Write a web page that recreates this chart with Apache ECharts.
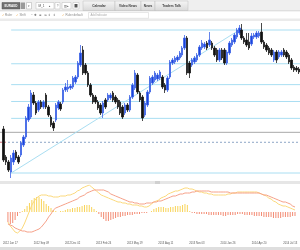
<!DOCTYPE html>
<html><head><meta charset="utf-8">
<script src="https://cdn.jsdelivr.net/npm/echarts@6/dist/echarts.min.js"></script>
<style>html,body{margin:0;padding:0;background:#fff;overflow:hidden}#c{width:300px;height:250px}</style>
</head><body><div id="c"></div>
<script>
// ---- tick labels (one every 13 candles, starting at candle 1)
const tickLabels = ['2012 Jun 17','2012 Sep 09','2012 Dec 02','2013 Feb 24','2013 May 19','2013 Aug 11','2013 Nov 03','2014 Jan 26','2014 Apr 20','2014 Jul 13'];

// ---- EURAUD candles (index 0 is an empty slot)
const openPrices = [null,
1.3025,1.2325,1.2200,1.1950,1.2200,1.2450,1.2325,1.2375,1.2625,1.2825,
1.3250,1.3325,1.3875,1.3675,1.3500,1.3700,1.3575,1.3875,1.3575,1.3325,
1.3175,1.3250,1.3550,1.3650,1.3700,1.4000,1.4025,1.4050,1.4075,1.4200,
1.4325,1.4625,1.5000,1.4625,1.4425,1.4125,1.3875,1.3825,1.3700,1.3625,
1.3425,1.3750,1.3750,1.3800,1.3925,1.3825,1.3750,1.3700,1.3575,1.3425,
1.3625,1.3500,1.3825,1.4050,1.4375,1.3925,1.3825,1.3375,1.3625,1.3950,
1.4175,1.4250,1.4275,1.4300,1.4325,1.4125,1.4000,1.4325,1.4675,1.4700,
1.4750,1.4800,1.4875,1.5050,1.5300,1.4675,1.4625,1.4700,1.4750,1.4875,
1.5050,1.5075,1.5175,1.5125,1.5175,1.5050,1.5000,1.4750,1.5000,1.5000,
1.4675,1.4925,1.5125,1.5200,1.5325,1.5425,1.5500,1.5300,1.5250,1.5200,
1.5150,1.5325,1.5325,1.5350,1.5450,1.5200,1.5125,1.5050,1.5000,1.4750,
1.4950,1.4825,1.4875,1.5000,1.4950,1.4875,1.4750,1.4575,1.4550,1.4525];
const closePrices = [null,
1.2250,1.2200,1.2000,1.2300,1.2425,1.2300,1.2200,1.2675,1.2825,1.3300,
1.3575,1.3925,1.3675,1.3425,1.3700,1.3575,1.3700,1.3575,1.3375,1.3125,
1.3050,1.3625,1.3700,1.3525,1.4000,1.4075,1.4075,1.4100,1.4300,1.4325,
1.4675,1.4925,1.4425,1.4425,1.4125,1.3875,1.3700,1.3700,1.3550,1.3425,
1.3675,1.3575,1.3875,1.3875,1.3750,1.3700,1.3575,1.3425,1.3325,1.3625,
1.3500,1.3825,1.4125,1.4425,1.3950,1.3750,1.3300,1.3675,1.3950,1.4300,
1.4325,1.4425,1.4375,1.4450,1.4075,1.4000,1.4300,1.4700,1.4750,1.4800,
1.4825,1.4925,1.5050,1.5300,1.4425,1.4425,1.4750,1.4800,1.4875,1.5075,
1.5175,1.5150,1.5050,1.5250,1.5050,1.4875,1.4750,1.5000,1.4800,1.4675,
1.4950,1.5175,1.5250,1.5375,1.5500,1.5550,1.5300,1.5200,1.5125,1.5050,
1.5350,1.5375,1.5425,1.5425,1.5200,1.5075,1.5000,1.4925,1.4875,1.4950,
1.4750,1.4950,1.4950,1.4875,1.4825,1.4700,1.4550,1.4500,1.4500,1.4450];
const lowPrices = [null,
1.2200,1.2125,1.1950,1.1800,1.2125,1.2250,1.2150,1.2325,1.2575,1.2775,
1.3200,1.3275,1.3625,1.3375,1.3450,1.3525,1.3525,1.3525,1.3325,1.3075,
1.2975,1.3200,1.3500,1.3475,1.3650,1.3950,1.3950,1.4000,1.4025,1.4150,
1.4275,1.4575,1.4375,1.4375,1.4075,1.3825,1.3650,1.3650,1.3500,1.3375,
1.3300,1.3525,1.3700,1.3750,1.3700,1.3650,1.3525,1.3375,1.3275,1.3375,
1.3450,1.3450,1.3775,1.4000,1.3900,1.3700,1.3225,1.3325,1.3575,1.3900,
1.4125,1.4200,1.4225,1.4250,1.4025,1.3925,1.3950,1.4275,1.4625,1.4650,
1.4700,1.4750,1.4825,1.5000,1.4375,1.4300,1.4575,1.4650,1.4700,1.4825,
1.5000,1.5025,1.5000,1.5075,1.5000,1.4825,1.4700,1.4700,1.4750,1.4625,
1.4625,1.4875,1.5075,1.5150,1.5275,1.5375,1.5250,1.5150,1.5075,1.5000,
1.5100,1.5275,1.5275,1.5300,1.5150,1.5025,1.4950,1.4875,1.4825,1.4700,
1.4675,1.4775,1.4825,1.4825,1.4775,1.4650,1.4500,1.4450,1.4450,1.4400];
const highPrices = [null,
1.3100,1.2375,1.2250,1.2375,1.2500,1.2500,1.2375,1.2725,1.2875,1.3350,
1.3650,1.4000,1.3950,1.3725,1.3750,1.3750,1.3750,1.3925,1.3625,1.3375,
1.3225,1.3675,1.3750,1.3700,1.4050,1.4175,1.4250,1.4150,1.4350,1.4375,
1.4725,1.5125,1.5100,1.4675,1.4475,1.4175,1.3925,1.3875,1.3750,1.3675,
1.3725,1.3800,1.3925,1.3925,1.3975,1.3875,1.3800,1.3750,1.3625,1.3675,
1.3675,1.3875,1.4175,1.4500,1.4425,1.3975,1.3875,1.3725,1.4000,1.4350,
1.4375,1.4475,1.4425,1.4500,1.4375,1.4175,1.4350,1.4750,1.4800,1.4850,
1.4875,1.4975,1.5100,1.5375,1.5350,1.4725,1.4800,1.4850,1.4925,1.5125,
1.5250,1.5200,1.5225,1.5450,1.5225,1.5100,1.5050,1.5050,1.5050,1.5050,
1.5000,1.5225,1.5300,1.5425,1.5550,1.5625,1.5650,1.5350,1.5425,1.5425,
1.5425,1.5425,1.5475,1.5475,1.5675,1.5250,1.5175,1.5100,1.5050,1.5000,
1.5000,1.5000,1.5000,1.5050,1.5000,1.4925,1.4800,1.4625,1.4600,1.4575];

// ---- drawing tools: trend line anchors and retracement levels
const trendStart = {index: 4, price: 1.1925};
const trendEnd = {index: 96, price: 1.5500};
const fibLevels = [1.5500, 1.4656, 1.4134, 1.3713, 1.3291, 1.1925];
const grayLevel = 1.2942;
const dashedLevel = 1.2693;

// ---- MACD panel
const macdLine = [
-0.010,-0.014,-0.017,-0.020,-0.021,-0.019,-0.016,-0.011,-0.005,0.001,
0.007,0.011,0.014,0.016,0.017,0.017,0.017,0.016,0.016,0.015,
0.015,0.015,0.016,0.016,0.016,0.017,0.017,0.018,0.019,0.021,
0.022,0.024,0.025,0.026,0.027,0.025,0.023,0.021,0.019,0.017,
0.016,0.015,0.014,0.013,0.012,0.011,0.010,0.010,0.009,0.009,
0.008,0.008,0.007,0.007,0.007,0.006,0.006,0.005,0.005,0.006,
0.008,0.010,0.011,0.012,0.014,0.015,0.016,0.018,0.019,0.020,
0.021,0.021,0.022,0.023,0.024,0.024,0.023,0.023,0.022,0.021,
0.020,0.020,0.019,0.019,0.018,0.018,0.017,0.017,0.017,0.017,
0.017,0.017,0.018,0.018,0.019,0.019,0.020,0.020,0.020,0.020,
0.020,0.020,0.020,0.020,0.020,0.019,0.018,0.017,0.016,0.014,
0.013,0.011,0.010,0.008,0.007,0.006,0.006,0.005,0.004,0.003,0.002];
const signalLine = [
-0.012,-0.013,-0.014,-0.016,-0.017,-0.018,-0.019,-0.019,-0.020,-0.020,
-0.020,-0.019,-0.018,-0.017,-0.015,-0.012,-0.009,-0.005,-0.002,0.002,
0.004,0.005,0.006,0.007,0.008,0.009,0.010,0.011,0.012,0.013,
0.015,0.016,0.017,0.019,0.020,0.021,0.022,0.022,0.022,0.022,
0.022,0.021,0.020,0.018,0.017,0.016,0.015,0.014,0.013,0.012,
0.011,0.010,0.010,0.009,0.009,0.008,0.008,0.008,0.009,0.009,
0.009,0.010,0.010,0.011,0.011,0.012,0.013,0.014,0.015,0.016,
0.016,0.017,0.018,0.018,0.019,0.019,0.019,0.020,0.020,0.021,
0.021,0.021,0.021,0.021,0.021,0.020,0.020,0.020,0.020,0.020,
0.020,0.020,0.020,0.019,0.019,0.019,0.019,0.019,0.019,0.019,
0.019,0.019,0.019,0.019,0.019,0.019,0.018,0.017,0.017,0.016,
0.015,0.014,0.013,0.012,0.011,0.010,0.010,0.009,0.008,0.006,0.005];
const histogram = [
-0.010,-0.012,-0.011,-0.008,-0.004,-0.001,0.001,0.003,0.006,0.009,
0.012,0.014,0.015,0.015,0.013,0.011,0.008,0.006,0.004,0.002,
0.001,0.000,0.001,0.001,0.002,0.003,0.003,0.004,0.004,0.005,
0.005,0.006,0.007,0.007,0.007,0.005,0.003,0.001,-0.002,-0.005,
-0.007,-0.009,-0.009,-0.008,-0.007,-0.006,-0.005,-0.005,-0.004,-0.004,
-0.003,-0.003,-0.003,-0.002,-0.002,-0.002,-0.001,-0.001,-0.001,0.000,
0.001,0.003,0.004,0.005,0.005,0.005,0.004,0.004,0.005,0.005,
0.006,0.006,0.006,0.007,0.008,0.007,0.001,-0.001,-0.001,-0.002,
-0.002,-0.002,-0.002,-0.002,-0.003,-0.003,-0.003,-0.003,-0.003,-0.003,
-0.004,-0.004,-0.003,-0.003,-0.003,-0.003,-0.002,-0.002,-0.002,-0.003,
-0.003,-0.003,-0.003,-0.004,-0.004,-0.004,-0.004,-0.005,-0.005,-0.005,
-0.005,-0.006,-0.006,-0.006,-0.006,-0.005,-0.005,-0.005,-0.005,-0.004,-0.004];

// ---- build
const N = openPrices.length;
const categories = openPrices.map((_, i) => String(i));
const candleData = openPrices.map((o, i) => o == null ? ['-', '-', '-', '-'] : [o, closePrices[i], lowPrices[i], highPrices[i]]);
const FONT = 'Liberation Sans, Arial, sans-serif';
const fibColor = '#a9def2';

const lineSeries = [];
fibLevels.forEach(lv => lineSeries.push({
  type: 'line', xAxisIndex: 1, yAxisIndex: 0, symbol: 'none', silent: true, z: 1,
  lineStyle: {color: fibColor, width: 1}, data: [[trendStart.index + 0.5, lv], [N, lv]]
}));
lineSeries.push({type: 'line', xAxisIndex: 1, yAxisIndex: 0, symbol: 'none', z: 1,
  lineStyle: {color: '#a8a8a8', width: 1}, data: [[0, grayLevel], [N, grayLevel]]});
lineSeries.push({type: 'line', xAxisIndex: 1, yAxisIndex: 0, symbol: 'none', z: 1,
  lineStyle: {color: '#8ea6c6', width: 1, type: [2, 2]}, data: [[0, dashedLevel], [N, dashedLevel]]});
lineSeries.push({type: 'line', xAxisIndex: 1, yAxisIndex: 0, symbol: 'none', z: 2,
  lineStyle: {color: '#f08a8a', width: 1, type: [2, 2]}, data: [[0, dashedLevel], [3.2, dashedLevel]]});
lineSeries.push({type: 'line', xAxisIndex: 1, yAxisIndex: 0, symbol: 'none', z: 1,
  lineStyle: {color: fibColor, width: 1},
  data: [[trendStart.index + 0.5, trendStart.price], [trendEnd.index + 0.5, trendEnd.price]]});

function txt(x, y, s, opt) {
  return Object.assign({type: 'text', x: x, y: y, z: 100,
    style: Object.assign({text: s, fontSize: 3.4, fontFamily: FONT, fill: '#555', verticalAlign: 'middle', align: 'left'}, opt || {})});
}
function rect(x, y, w, h, st) {
  return {type: 'rect', z: 99, shape: {x: x, y: y, width: w, height: h}, style: st};
}
const tabFill = new echarts.graphic.LinearGradient(0, 0, 0, 1, [{offset: 0, color: '#f6f6f6'}, {offset: 1, color: '#d9d9d9'}]);
const tabs = [['Calendar', 83, 115], ['Video News', 115, 141], ['News', 141, 155], ['Traders Talk', 155, 188]];
const graphic = [
  rect(0, 0, 300, 11, {fill: '#efefef'}),
  rect(0, 10.5, 300, 0.8, {fill: '#cfcfcf'}),
  rect(2, 2.5, 18, 6.5, {fill: '#6f6f6f', stroke: '#555', lineWidth: 0.5}),
  txt(11, 5.9, 'EURAUD', {fill: '#fff', fontSize: 3, fontWeight: 'bold', align: 'center'}),
  rect(21, 2.5, 4, 6.5, {fill: '#9a9a9a'}),
  rect(26.5, 2.5, 5, 6.5, {fill: '#fff', stroke: '#aaa', lineWidth: 0.5}),
  txt(29, 5.9, '▾', {align: 'center', fill: '#666'}),
  rect(36, 2.5, 18, 6.5, {fill: '#fff', stroke: '#bbb', lineWidth: 0.5}),
  txt(38.5, 5.9, 'M_1', {fill: '#444', fontSize: 3}),
  txt(49.5, 5.9, '▲', {fill: '#666', fontSize: 2.6, align: 'center'}),
  rect(55, 2.5, 5, 6.5, {fill: '#fff', stroke: '#bbb', lineWidth: 0.5}),
  txt(57.5, 5.9, '?', {fill: '#666', fontSize: 3, align: 'center'}),
  rect(62, 2.5, 9, 6.5, {fill: '#fff', stroke: '#bbb', lineWidth: 0.5}),
  txt(66.5, 5.9, '▥▴', {fill: '#555', fontSize: 2.8, align: 'center'}),
  rect(73, 2.5, 6, 6.5, {fill: '#fff', stroke: '#bbb', lineWidth: 0.5}),
  rect(74.5, 4, 3, 3.5, {fill: '#555'}),
  // row 2
  rect(0, 18.5, 300, 2.5, {fill: '#ebebeb'}),
  txt(1.5, 15.3, '✓', {fill: '#f0a030', fontSize: 3.2}),
  txt(5, 15.3, 'Ruler', {fill: '#888', fontSize: 3}),
  txt(16, 15.3, '✓', {fill: '#f0a030', fontSize: 3.2}),
  txt(19.5, 15.3, 'Shift', {fill: '#888', fontSize: 3}),
  txt(31, 15.3, '−  ✚  ⊕  ≫  ⇕  ⇕', {fill: '#666', fontSize: 3}),
  txt(62, 15.3, '✓', {fill: '#f0a030', fontSize: 3.2}),
  txt(65.5, 15.3, 'Ruler default', {fill: '#888', fontSize: 3}),
  rect(88.5, 12.5, 60, 5.8, {fill: '#fff', stroke: '#cfcfcf', lineWidth: 0.5}),
  txt(90.5, 15.4, 'Add Indicator', {fill: '#aaa', fontSize: 2.8}),
  // panel separator and bottom strip
  rect(0, 181, 300, 3, {fill: '#e6e6e6'}),
  rect(155, 181, 5, 3, {fill: '#d0d0d0'}),
  rect(0, 247, 300, 3, {fill: '#dedede'})
];
tabs.forEach(t => {
  graphic.push(rect(t[1], 1, t[2] - t[1], 9.5, {fill: tabFill, stroke: '#bdbdbd', lineWidth: 0.5}));
  graphic.push(txt((t[1] + t[2]) / 2, 5.9, t[0], {align: 'center', fill: '#3a3a3a', fontWeight: 'bold', fontSize: 3.2}));
});

const chart = echarts.init(document.getElementById('c'), null, {renderer: 'canvas'});
chart.setOption({
  animation: false,
  backgroundColor: '#ffffff',
  grid: [
    {left: 0, right: 0, top: 24, height: 158},
    {left: 0, right: 0, top: 185, height: 55}
  ],
  xAxis: [
    {type: 'category', gridIndex: 0, data: categories, boundaryGap: true, show: false},
    {type: 'value', gridIndex: 0, min: 0, max: N, show: false},
    {type: 'category', gridIndex: 1, data: categories, boundaryGap: true,
      axisLine: {show: false}, axisTick: {show: false}, splitLine: {show: false},
      axisLabel: {show: true, margin: 2, fontSize: 2.7, color: '#555', fontFamily: FONT, hideOverlap: false,
        interval: (idx) => idx >= 1 && (idx - 1) % 13 === 0,
        formatter: (v, idx) => tickLabels[(idx - 1) / 13] || ''}}
  ],
  yAxis: [
    {type: 'value', gridIndex: 0, min: 1.17, max: 1.565, show: false, splitLine: {show: false}},
    {type: 'value', gridIndex: 1, min: -0.028, max: 0.027, show: false, splitLine: {show: false}}
  ],
  graphic: graphic,
  series: lineSeries.concat([
    {type: 'candlestick', xAxisIndex: 0, yAxisIndex: 0, data: candleData, barWidth: 2, z: 3,
      itemStyle: {color: '#1b44dc', color0: '#111111', borderColor: '#3f64e6', borderColor0: '#1a1a1a', borderWidth: 0.8}},
    {type: 'bar', xAxisIndex: 2, yAxisIndex: 1, data: histogram, barWidth: 1, z: 1,
      itemStyle: {color: (p) => p.value >= 0 ? '#f8d45a' : '#f38c74'}},
    {type: 'line', xAxisIndex: 2, yAxisIndex: 1, data: macdLine, symbol: 'none', z: 2,
      lineStyle: {color: '#fbd97c', width: 1}},
    {type: 'line', xAxisIndex: 2, yAxisIndex: 1, data: signalLine, symbol: 'none', z: 2,
      lineStyle: {color: '#f6a189', width: 1}}
  ])
});
</script>
</body></html>
